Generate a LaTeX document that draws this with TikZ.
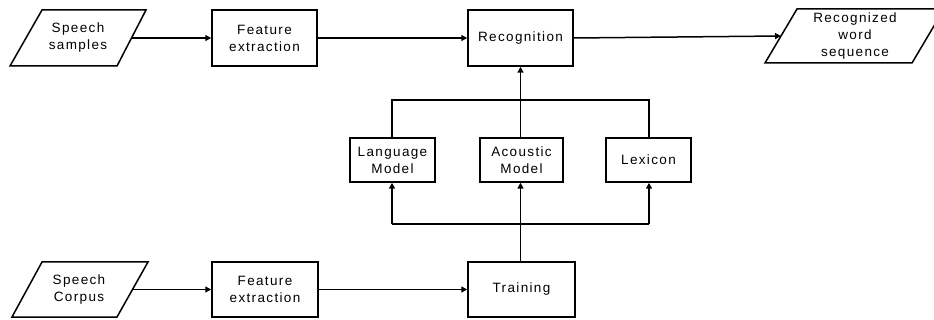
\documentclass[tikz,border=0pt]{standalone}
\usepackage{fontspec}
\setmainfont[LetterSpace=10]{Liberation Sans}
\usetikzlibrary{arrows.meta}
\begin{document}
\begin{tikzpicture}[x=1pt,y=-1pt,
  line width=1.5pt,
  arr/.style={-{Triangle[length=6pt,width=6pt]}},
  lbl/.style={font=\fontsize{13.5}{17}\selectfont, align=center, inner sep=0pt},
  box/.style={draw, rectangle, minimum width=#1, inner sep=0pt, font=\fontsize{13.5}{17}\selectfont, align=center},
]
\useasboundingbox (0,0) rectangle (934,320);
\clip (0,0) rectangle (934,320);
\fill[white] (0,0) rectangle (934,320);

% parallelograms
\draw (42,10) -- (146,10) -- (117,66) -- (10,66) -- cycle;
\node[lbl] (ss) at (78,38) {Speech\\samples};
\coordinate (ssr) at (131.5,38);

\draw (42,262) -- (148,262) -- (117,317) -- (12,317) -- cycle;
\node[lbl] (sc) at (79,289.5) {Speech\\Corpus};
\coordinate (scr) at (132.5,289.5);

\draw (797,9) -- (944,9) -- (912,63) -- (765,63) -- cycle;
\node[lbl] (rws) at (855,36) {Recognized\\word\\sequence};
\coordinate (rwsl) at (781,36);

% boxes
\node[box=105pt, minimum height=56pt] (fe1) at (264.5,38) {Feature\\extraction};
\node[box=105pt, minimum height=56pt] (rec) at (520.5,38) {Recognition};
\node[box=85pt, minimum height=44pt] (lm) at (392.5,160) {Language\\Model};
\node[box=83pt, minimum height=44pt] (am) at (521.5,160) {Acoustic\\Model};
\node[box=85pt, minimum height=44pt] (lx) at (648.5,160) {Lexicon};
\node[box=106pt, minimum height=55pt] (fe2) at (265,289.5) {Feature\\extraction};
\node[box=107pt, minimum height=55pt] (tr) at (521.5,289.5) {Training};

% top row
\draw[arr] (ssr) -- (fe1.west);
\draw[arr] (fe1.east) -- (rec.west);
\draw[arr] (rec.east) -- (rwsl);

% middle to recognition
\coordinate (tl) at (392,100);
\coordinate (tr2) at (649,100);
\draw (lm.north -| tl) -- (tl) -- (tr2) -- (lx.north -| tr2);
\draw[arr] (am.north -| rec.south) -- (rec.south);

% bottom
\draw[arr] (scr) -- (fe2.west);
\draw[arr] (fe2.east) -- (tr.west);
\coordinate (bl) at (392,224);
\coordinate (br) at (649,224);
\coordinate (bm) at (520.5,224);
\draw (tr.north -| bm) -- (bm);
\draw (bl) -- (br);
\draw[arr] (bl) -- (lm.south -| bl);
\draw[arr] (bm) -- (am.south -| bm);
\draw[arr] (br) -- (lx.south -| br);
\end{tikzpicture}
\end{document}
